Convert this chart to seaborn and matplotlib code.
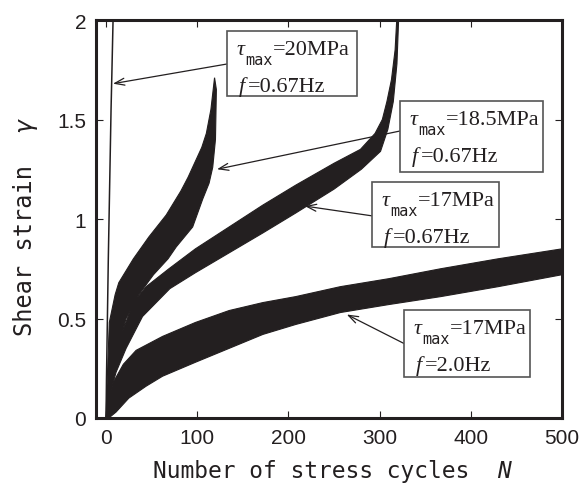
import numpy as np
import matplotlib
matplotlib.use("Agg")
import matplotlib.pyplot as plt
import seaborn as sns
from matplotlib.patches import Rectangle

# ---------------- data ----------------
# curve 1: tau_max=20MPa, f=0.67Hz (thin, almost vertical)
c1_N = [0, 0.5, 1.5, 2.5, 3.3, 4.5, 5.5, 6.5, 7.7]
c1_g = [0, 0.20, 0.50, 0.80, 1.00, 1.30, 1.55, 1.75, 2.00]

# curve 2: tau_max=18.5MPa, f=0.67Hz  (upper / lower envelope of the oscillation band)
c2_up_N = [0, 1, 3.6, 10, 14, 30, 47, 66, 82, 90, 98, 105, 110, 115, 119]
c2_up_g = [0, 0.15, 0.48, 0.62, 0.68, 0.80, 0.91, 1.02, 1.14, 1.21, 1.29, 1.36, 1.43, 1.55, 1.71]
c2_lo_N = [0, 2, 10, 22, 36, 52, 68, 77, 95, 106, 113, 117, 120, 121]
c2_lo_g = [0, 0.05, 0.30, 0.50, 0.62, 0.72, 0.80, 0.86, 0.96, 1.10, 1.18, 1.26, 1.40, 1.65]

# curve 3: tau_max=17MPa, f=0.67Hz
c3_up_N = [0, 3, 11, 30, 44, 69, 98, 135, 172, 208, 250, 279, 295, 303, 308, 313, 317, 319]
c3_up_g = [0, 0.18, 0.35, 0.58, 0.66, 0.75, 0.85, 0.96, 1.07, 1.17, 1.28, 1.35, 1.43, 1.50, 1.59, 1.70, 1.85, 2.02]
c3_lo_N = [0, 3, 11, 22, 40, 70, 98, 135, 172, 208, 250, 280, 301, 309, 315, 319, 321]
c3_lo_g = [0, 0.10, 0.23, 0.35, 0.51, 0.65, 0.73, 0.83, 0.93, 1.03, 1.15, 1.25, 1.34, 1.45, 1.59, 1.78, 2.02]

# curve 4: tau_max=17MPa, f=2.0Hz
c4_up_N = [0, 3, 8, 19, 33, 62, 98, 135, 172, 208, 257, 310, 367, 430, 500]
c4_up_g = [0, 0.10, 0.18, 0.27, 0.34, 0.41, 0.48, 0.54, 0.58, 0.61, 0.66, 0.70, 0.75, 0.80, 0.85]
c4_lo_N = [3, 11, 25, 44, 62, 98, 135, 172, 208, 257, 310, 367, 430, 500]
c4_lo_g = [0, 0.03, 0.10, 0.16, 0.21, 0.28, 0.35, 0.42, 0.47, 0.53, 0.57, 0.61, 0.66, 0.72]

x_ticks = [0, 100, 200, 300, 400, 500]
y_ticks = [0, 0.5, 1, 1.5, 2]
y_tick_labels = ["0", "0.5", "1", "1.5", "2"]

labels_tau = ["20MPa", "18.5MPa", "17MPa", "17MPa"]
labels_f = ["0.67Hz", "0.67Hz", "0.67Hz", "2.0Hz"]
# arrow tips (data coords: N, gamma)
tips_N = [7.6, 121.7, 218, 264]
tips_g = [1.68, 1.25, 1.065, 0.52]

# ---------------- figure ----------------
W, H = 588, 485
sns.set_style("ticks")
plt.rcParams["font.family"] = ["Liberation Sans", "DejaVu Sans"]
INK = "#231f20"

fig = plt.figure(figsize=(W / 100, H / 100), dpi=100)
ax = fig.add_axes([96 / W, 1 - 419 / H, (562 - 96) / W, (419 - 21) / H])

sns.lineplot(x=c1_N, y=c1_g, ax=ax, color=INK, lw=1.1, sort=False, estimator=None)
for upN, upg, loN, log in [(c2_up_N, c2_up_g, c2_lo_N, c2_lo_g),
                           (c3_up_N, c3_up_g, c3_lo_N, c3_lo_g),
                           (c4_up_N, c4_up_g, c4_lo_N, c4_lo_g)]:
    xs = np.r_[upN, loN[::-1]]
    ys = np.r_[upg, log[::-1]]
    ax.fill(xs, ys, color=INK, lw=0.8, ec=INK)

ax.set_xlim(-11, 500)
ax.set_ylim(0, 2)
ax.set_xticks(x_ticks)
ax.set_yticks(y_ticks)
ax.set_yticklabels(y_tick_labels)
ax.tick_params(direction="in", top=True, right=True, length=5, width=0.8,
               labelsize=15, pad=7, colors=INK)
for s in ax.spines.values():
    s.set_linewidth(2.2)
    s.set_color(INK)

# axis labels (monospace gothic look)
fig.text(153 / W, 1 - 478 / H, "Number of stress cycles", family="DejaVu Sans Mono",
         size=16.5, va="baseline", ha="left", color=INK)
fig.text(497 / W, 1 - 478 / H, "N", family="DejaVu Sans Mono", style="italic",
         size=16.5, va="baseline", ha="left", color=INK)
fig.text(25 / W, 1 - 336 / H, "Shear strain", family="DejaVu Sans Mono", size=17,
         rotation=90, va="bottom", ha="center", color=INK)
fig.text(25 / W, 1 - 132 / H, "γ", family="DejaVu Sans Mono", style="italic", size=17,
         rotation=90, va="bottom", ha="center", color=INK)

# annotation boxes: (left, top, right, bottom) in pixels from top-left
boxes = [(227, 32, 357, 97), (400, 102, 543, 173), (372, 183, 499, 248), (404, 311, 530, 378)]
starts = [(227, 65), (400, 132), (373, 217), (405, 345)]

serif = "Liberation Serif"
for i, (l, t, r, b) in enumerate(boxes):
    ax.add_patch(Rectangle((l / W, 1 - b / H), (r - l) / W, (b - t) / H,
                           transform=fig.transFigure, clip_on=False,
                           facecolor="white", edgecolor="#555555", lw=1.2, zorder=5))
    base1 = t + 23
    base2 = base1 + 37
    t1 = ax.text((l + 10) / W, 1 - base1 / H, "τ", transform=fig.transFigure, family=serif,
                 style="italic", size=16, va="baseline", ha="left", zorder=6, color=INK)
    t2 = ax.annotate("max", xy=(1, H - base1 - 10), xycoords=(t1, "figure pixels"),
                     xytext=(0.3, 0), textcoords="offset points", family="DejaVu Sans Mono",
                     size=11, va="baseline", ha="left", zorder=6, color=INK,
                     annotation_clip=False)
    ax.annotate("=" + labels_tau[i], xy=(1, H - base1), xycoords=(t2, "figure pixels"),
                xytext=(0.3, 0), textcoords="offset points",
                family=serif, size=16, va="baseline", ha="left", zorder=6, color=INK,
                annotation_clip=False)
    t4 = ax.text((l + 12) / W, 1 - base2 / H, "f", transform=fig.transFigure, family=serif,
                 style="italic", size=16, va="baseline", ha="left", zorder=6, color=INK)
    ax.annotate("=" + labels_f[i], xy=(1, H - base2), xycoords=(t4, "figure pixels"),
                xytext=(2, 0), textcoords="offset points",
                family=serif, size=16, va="baseline", ha="left", zorder=6, color=INK,
                annotation_clip=False)
    sx, sy = starts[i]
    ax.annotate("", xy=(tips_N[i], tips_g[i]), xycoords="data",
                xytext=(sx, H - sy), textcoords="figure pixels",
                arrowprops=dict(arrowstyle="->,head_length=0.7,head_width=0.25",
                                lw=0.9, color=INK, shrinkA=0, shrinkB=0),
                zorder=4, annotation_clip=False)

fig.savefig("out.png", dpi=100)
